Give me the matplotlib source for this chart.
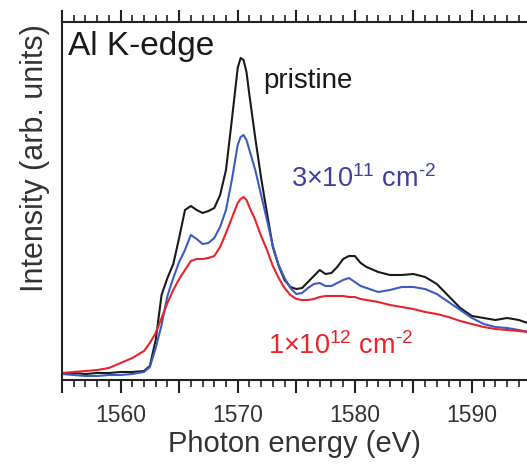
import matplotlib
matplotlib.use("Agg")
import matplotlib.pyplot as plt
from matplotlib.ticker import MultipleLocator, FuncFormatter

plt.rcParams['font.family'] = ['Liberation Sans', 'DejaVu Sans']
plt.rcParams['mathtext.fontset'] = 'custom'
plt.rcParams['mathtext.rm'] = 'Liberation Sans'
plt.rcParams['mathtext.default'] = 'regular'

energy = [1555, 1556, 1557, 1558, 1559, 1560, 1561, 1562, 1562.5, 1563, 1563.5,
          1564, 1564.5, 1565, 1565.5, 1566, 1566.5, 1567, 1567.5, 1568, 1568.5,
          1569, 1569.5, 1570, 1570.25, 1570.5, 1570.75, 1571, 1571.5, 1572,
          1572.5, 1573, 1573.5, 1574, 1574.5, 1575, 1575.5, 1576, 1576.5, 1577,
          1577.5, 1578, 1578.5, 1579, 1579.5, 1580, 1580.5, 1581, 1582, 1583,
          1584, 1585, 1586, 1587, 1588, 1589, 1590, 1591, 1592, 1593, 1594, 1594.75]

pristine = [0.07, 0.07, 0.06, 0.07, 0.07, 0.08, 0.08, 0.09, 0.14, 0.40, 0.85,
            1.02, 1.16, 1.42, 1.70, 1.74, 1.70, 1.67, 1.69, 1.72, 1.85,
            2.10, 2.60, 3.12, 3.22, 3.20, 3.08, 2.85, 2.42, 2.02,
            1.67, 1.33, 1.14, 1.00, 0.93, 0.91, 0.92, 0.98, 1.04, 1.10,
            1.06, 1.07, 1.13, 1.21, 1.24, 1.24, 1.17, 1.13, 1.08, 1.05,
            1.05, 1.06, 1.03, 0.96, 0.84, 0.72, 0.64, 0.62, 0.60, 0.62, 0.60, 0.57]

dose_3e11 = [0.06, 0.05, 0.04, 0.04, 0.05, 0.05, 0.06, 0.08, 0.13, 0.32, 0.55,
             0.84, 1.02, 1.18, 1.30, 1.45, 1.41, 1.36, 1.37, 1.42, 1.53,
             1.70, 2.00, 2.35, 2.43, 2.45, 2.40, 2.30, 2.10, 1.85,
             1.60, 1.34, 1.15, 1.02, 0.92, 0.86, 0.87, 0.92, 0.96, 0.97,
             0.94, 0.94, 0.97, 1.00, 1.02, 0.98, 0.94, 0.92, 0.88, 0.90,
             0.93, 0.93, 0.91, 0.86, 0.78, 0.70, 0.62, 0.56, 0.53, 0.52, 0.50, 0.48]

dose_1e12 = [0.07, 0.08, 0.09, 0.10, 0.12, 0.17, 0.22, 0.29, 0.37, 0.47, 0.62,
             0.77, 0.90, 1.01, 1.10, 1.19, 1.21, 1.21, 1.22, 1.24, 1.33,
             1.47, 1.62, 1.77, 1.81, 1.83, 1.80, 1.73, 1.60, 1.44,
             1.30, 1.14, 1.02, 0.92, 0.85, 0.81, 0.80, 0.80, 0.81, 0.83,
             0.84, 0.84, 0.84, 0.84, 0.83, 0.83, 0.81, 0.80, 0.78, 0.75,
             0.73, 0.71, 0.68, 0.66, 0.63, 0.59, 0.56, 0.53, 0.51, 0.50, 0.49, 0.48]

xticks_labeled = [1560, 1570, 1580, 1590]

fig = plt.figure(figsize=(5.27, 4.65), dpi=100)
ax = fig.add_axes([62/527, 1-380/465, 1-62/527, (380-22)/465])

ax.plot(energy, pristine, color='#1a1a1a', lw=1.5)
ax.plot(energy, dose_3e11, color='#3d5cc0', lw=1.5)
ax.plot(energy, dose_1e12, color='#e8232a', lw=1.5)

ax.set_xlim(1555, 1594.7)
ax.set_ylim(0, 3.58)

ax.spines['right'].set_visible(False)
for s in ['left', 'top', 'bottom']:
    ax.spines[s].set_linewidth(1.5)
    ax.spines[s].set_color('#222222')

ax.xaxis.set_major_locator(MultipleLocator(5))
ax.xaxis.set_minor_locator(MultipleLocator(1))
ax.xaxis.set_major_formatter(FuncFormatter(
    lambda v, p: f"{int(round(v))}" if int(round(v)) in xticks_labeled else ""))
ax.tick_params(axis='x', which='both', direction='out', top=True, bottom=True,
               labeltop=False, colors='#222222', labelcolor='#333333', labelsize=16.5)
ax.tick_params(axis='x', which='major', length=9, width=1.5, pad=8)
ax.tick_params(axis='x', which='minor', length=5, width=1.2)
ax.set_yticks([])

fig.text(68/527, 1-55/465, 'Al K-edge', fontsize=24, color='#1a1a1a', ha='left', va='baseline')
fig.text(263/527, 1-88/465, 'pristine', fontsize=20, color='#1a1a1a', ha='left', va='baseline')
fig.text(291/527, 1-187/465, r'3×10$^{11}$ cm$^{\text{-}2}$', fontsize=19.5, color='#3f3f9f',
         ha='left', va='baseline')
fig.text(268/527, 1-354/465, r'1×10$^{12}$ cm$^{\text{-}2}$', fontsize=19.5, color='#e8232a',
         ha='left', va='baseline')

fig.text(294/527, 1-452/465, 'Photon energy (eV)', fontsize=21, color='#333333',
         ha='center', va='baseline')
fig.text(35/527, 1-158/465, 'Intensity (arb. units)', fontsize=22, color='#333333',
         ha='center', va='center', rotation=90)

fig.savefig('out.png', dpi=100)
